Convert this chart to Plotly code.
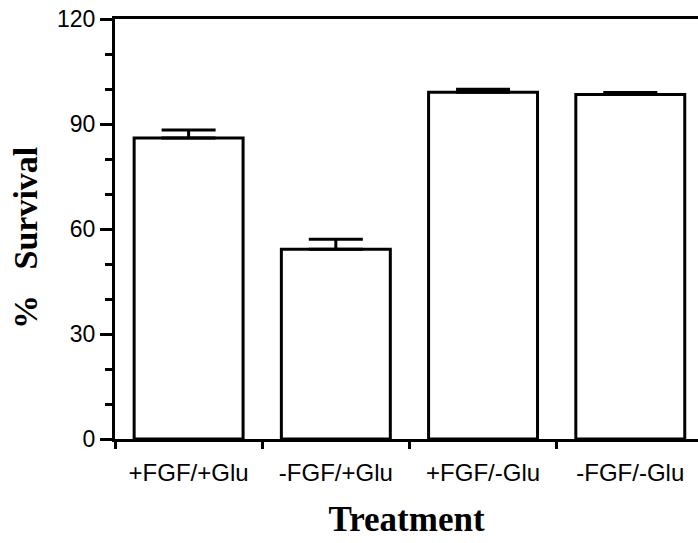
import plotly.graph_objects as go

categories = ["+FGF/+Glu", "-FGF/+Glu", "+FGF/-Glu", "-FGF/-Glu"]
survival = [86.0, 54.2, 99.1, 98.4]
sem = [2.3, 2.9, 0.8, 0.6]
y_ticks = [0, 30, 60, 90, 120]

fig = go.Figure()
fig.add_trace(go.Bar(
    x=categories,
    y=survival,
    width=0.74,
    marker=dict(color="white", line=dict(color="black", width=3)),
    error_y=dict(type="data", symmetric=False, array=sem,
                 arrayminus=[0] * len(sem), color="black",
                 thickness=3, width=27),
    showlegend=False,
))

fig.update_layout(
    width=698, height=543,
    margin=dict(l=115, r=0, t=19, b=104),
    paper_bgcolor="white", plot_bgcolor="white",
    bargap=0.26,
)

fig.update_xaxes(
    range=[-0.5, 3.46],
    showline=True, linecolor="black", linewidth=3, mirror=True,
    ticks="outside", tickson="boundaries", ticklen=7, tickwidth=2.5,
    tickcolor="black", ticklabelstandoff=10,
    tickfont=dict(family="Liberation Sans, Arial, sans-serif", size=24, color="black"),
    showgrid=False, zeroline=False,
    title=dict(text="Treatment",
               font=dict(family="Liberation Serif, Times New Roman, serif", size=35, color="black", weight="bold"),
               standoff=22),
)

fig.update_yaxes(
    range=[0, 120],
    tickmode="array", tickvals=y_ticks, ticktext=[str(v) for v in y_ticks],
    showline=True, linecolor="black", linewidth=3, mirror=False,
    ticks="outside", ticklen=12, tickwidth=2.5, tickcolor="black",
    minor=dict(dtick=10, tick0=0, ticks="outside", ticklen=7, tickwidth=2.5, tickcolor="black", showgrid=False),
    tickfont=dict(family="Liberation Sans, Arial, sans-serif", size=23, color="black"),
    showgrid=False, zeroline=False,
)

fig.add_annotation(
    text="%\u00a0\u00a0\u00a0Survival",
    textangle=-90,
    xref="paper", yref="paper",
    x=(26 - 115) / 583, y=(439 - 238) / 420,
    xanchor="center", yanchor="middle",
    showarrow=False,
    font=dict(family="Liberation Serif, Times New Roman, serif", size=34, color="black", weight="bold"),
)

fig.write_html("out.html")
